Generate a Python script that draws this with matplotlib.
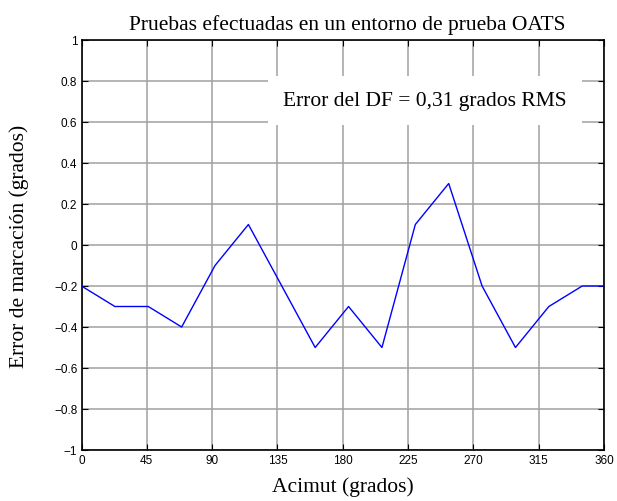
import matplotlib
matplotlib.use('Agg')
import matplotlib.pyplot as plt
import numpy as np

# Data
azimuth = [0, 23, 46, 69, 92, 115, 138, 161, 184, 207, 230, 253, 276, 299, 322, 345, 360]
error = [-0.2, -0.3, -0.3, -0.4, -0.1, 0.1, -0.2, -0.5, -0.3, -0.5, 0.1, 0.3, -0.2, -0.5, -0.3, -0.2, -0.2]
xticks = [0, 45, 90, 135, 180, 225, 270, 315, 360]
yticks = [-1, -0.8, -0.6, -0.4, -0.2, 0, 0.2, 0.4, 0.6, 0.8, 1]

serif = 'Liberation Serif'
sans = 'Liberation Sans'

fig = plt.figure(figsize=(6.17, 5.02), dpi=100)
ax = fig.add_axes([81.5 / 617, 51 / 502, (604 - 81.5) / 617, (451 - 41) / 502])

ax.plot(azimuth, error, color='#0000ff', lw=1.0, zorder=3)

ax.set_xlim(0, 360)
ax.set_ylim(-1, 1)
ax.set_xticks(xticks)
ax.set_yticks(yticks)
ax.set_xticklabels([str(t) for t in xticks], fontfamily=sans, fontsize=8.5)
ax.set_yticklabels([f'{t:g}'.replace('-', '\u2212') for t in yticks], fontfamily=sans, fontsize=8.5)
ax.tick_params(direction='in', length=4, width=0.8, top=True, right=True, pad=3)

ax.grid(True, color='#a0a0a0', lw=1.1, zorder=0)
ax.set_axisbelow(True)
for s in ax.spines.values():
    s.set_linewidth(1.2)

ax.set_title('Pruebas efectuadas en un entorno de prueba OATS', fontfamily=serif, fontsize=15.5,
             pad=8, x=0.509)
ax.set_xlabel('Acimut (grados)', fontfamily=serif, fontsize=15.5, labelpad=7)
ax.set_ylabel('Error de marcación (grados)', fontfamily=serif, fontsize=15.5, labelpad=18)

ax.text(0.658, 0.853, 'Error del DF = 0,31 grados RMS', transform=ax.transAxes,
        ha='center', va='center', fontfamily=serif, fontsize=15.5, zorder=4,
        bbox=dict(boxstyle='square,pad=0.7', facecolor='white', edgecolor='none'))

fig.savefig('out.png', dpi=100, facecolor='white')
plt.close()
